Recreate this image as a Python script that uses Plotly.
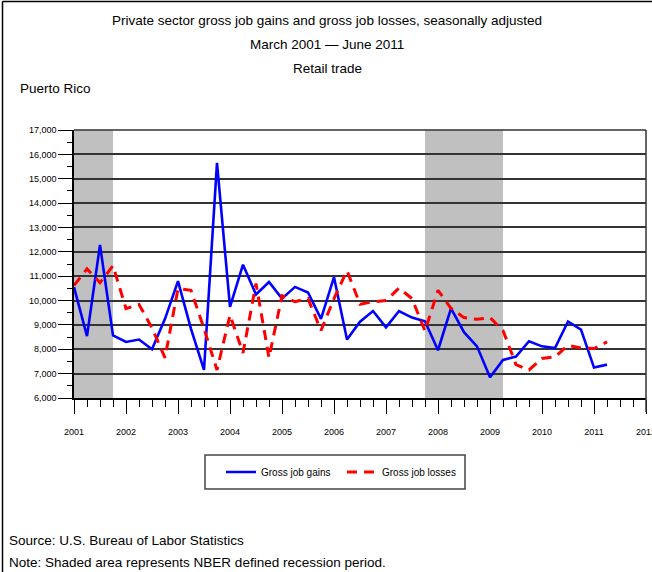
import plotly.graph_objects as go

# ---- data (quarterly, March 2001 - June 2011) ----
start_year = 2001
gains = [10550, 8540, 12280, 8570, 8300, 8400, 8000, 9250, 10800, 8840,
         7150, 15650, 9740, 11470, 10250, 10760, 10080, 10560, 10330, 9250,
         10960, 8400, 9130, 9570, 8900, 9570, 9300, 9150, 7960, 9680,
         8700, 8120, 6850, 7560, 7700, 8330, 8120, 8050, 9140, 8810,
         7250, 7370]
losses = [10620, 11300, 10730, 11430, 9670, 9840, 8880, 7650, 10490, 10420,
          8850, 7150, 9400, 7850, 10700, 7650, 10200, 9950, 10080, 8770,
          10080, 11230, 9850, 9950, 10000, 10510, 10080, 8750, 10420, 9680,
          9300, 9230, 9300, 8770, 7370, 7150, 7620, 7690, 8160, 8050,
          8030, 8300]
recession_start = [2001.0, 2007.75]
recession_end = [2001.75, 2009.25]
quarters = [start_year + i / 4 for i in range(len(gains))]

title_lines = ["Private sector gross job gains and gross job losses, seasonally adjusted",
               "March 2001 \u2014 June 2011",
               "Retail trade"]
region = "Puerto Rico"
source = "Source: U.S. Bureau of Labor Statistics"
note = "Note: Shaded area represents NBER defined recession period."

# ---- layout geometry ----
FW, FH = 652, 572
L, R, T, B = 74, 6, 130, 174
PW, PH = FW - L - R, FH - T - B
BOT = FH - B


def px2x(px):
    return (px - L) / PW


def py2y(py):
    return (BOT - py) / PH


FONT = "Liberation Sans Narrow, Arial Narrow, Liberation Sans, Arial, sans-serif"

fig = go.Figure()
fig.add_trace(go.Scatter(x=quarters, y=gains, mode="lines", name="Gross job gains",
                         line=dict(color="#0000FF", width=2.6), legend="legend",
                         showlegend=True))
fig.add_trace(go.Scatter(x=quarters, y=losses, mode="lines", name="Gross job losses",
                         line=dict(color="#FF0000", width=3, dash="10px,7px"), legend="legend2",
                         showlegend=True))

shapes = []
for s, e in zip(recession_start, recession_end):
    shapes.append(dict(type="rect", xref="x", yref="paper", x0=s, x1=e, y0=0, y1=1,
                       fillcolor="#C0C0C0", line=dict(width=0), layer="between"))
# plot top and right frame
shapes.append(dict(type="line", xref="paper", yref="paper", x0=0, x1=1, y0=1, y1=1,
                   line=dict(color="#333333", width=1.5)))
shapes.append(dict(type="line", xref="paper", yref="paper", x0=1, x1=1, y0=py2y(412), y1=1,
                   line=dict(color="#333333", width=1.5)))
# legend box
shapes.append(dict(type="rect", xref="paper", yref="paper", x0=px2x(205), x1=px2x(465),
                   y0=py2y(489), y1=py2y(455), line=dict(color="#444444", width=1.5),
                   fillcolor="rgba(0,0,0,0)"))
# outer frame (top and left)
shapes.append(dict(type="line", xref="paper", yref="paper", x0=px2x(2.5), x1=px2x(652),
                   y0=py2y(1.5), y1=py2y(1.5), line=dict(color="#000000", width=1.5)))
shapes.append(dict(type="line", xref="paper", yref="paper", x0=px2x(2.5), x1=px2x(2.5),
                   y0=py2y(1.5), y1=py2y(572), line=dict(color="#000000", width=1.5)))

annotations = []
for txt, yc in zip(title_lines, [20, 45, 69]):
    annotations.append(dict(text=txt, xref="paper", yref="paper", x=px2x(327), y=py2y(yc),
                            xanchor="center", yanchor="middle", showarrow=False,
                            font=dict(size=13.5, color="#000000", family=FONT)))
annotations.append(dict(text=region, xref="paper", yref="paper", x=px2x(18), y=py2y(89),
                        xanchor="left", yanchor="middle", showarrow=False,
                        font=dict(size=13.5, color="#000000", family=FONT)))
annotations.append(dict(text=source, xref="paper", yref="paper", x=px2x(7), y=py2y(540),
                        xanchor="left", yanchor="middle", showarrow=False,
                        font=dict(size=13.5, color="#000000", family=FONT)))
annotations.append(dict(text=note, xref="paper", yref="paper", x=px2x(7), y=py2y(562),
                        xanchor="left", yanchor="middle", showarrow=False,
                        font=dict(size=13.5, color="#000000", family=FONT)))

fig.update_layout(
    width=FW, height=FH,
    margin=dict(l=L, r=R, t=T, b=B, pad=0, autoexpand=False),
    paper_bgcolor="white", plot_bgcolor="white",
    font=dict(family=FONT, color="#000000"),
    showlegend=True,
    shapes=shapes, annotations=annotations,
    legend=dict(x=px2x(221), y=py2y(472), xanchor="left", yanchor="middle",
                orientation="h", bgcolor="rgba(0,0,0,0)", borderwidth=0,
                font=dict(size=10, family=FONT), itemwidth=30, visible=True),
    legend2=dict(x=px2x(342), y=py2y(472), xanchor="left", yanchor="middle",
                 orientation="h", bgcolor="rgba(0,0,0,0)", borderwidth=0,
                 font=dict(size=10, family=FONT), itemwidth=30, visible=True),
    xaxis=dict(range=[2001, 2012], dtick=1, tick0=2001, tickformat="d",
               automargin=False,
               showgrid=False, zeroline=False, showline=True, linecolor="#000000", linewidth=1.5,
               ticks="outside", ticklen=14, tickwidth=1.2, tickcolor="#000000",
               ticklabelstandoff=10, ticklabeloverflow="allow",
               minor=dict(dtick=0.25, ticks="outside", ticklen=7, tickwidth=1.2,
                          tickcolor="#000000", showgrid=False),
               tickfont=dict(size=9, family=FONT)),
    yaxis=dict(range=[6000, 17000], dtick=1000, tickformat=",d",
               automargin=False,
               showgrid=True, gridcolor="#333333", gridwidth=1.5,
               zeroline=False, showline=True, linecolor="#000000", linewidth=1.5,
               ticks="outside", ticklen=14, tickwidth=1.2, tickcolor="#000000",
               minor=dict(dtick=500, ticks="outside", ticklen=5, tickwidth=1.2,
                          tickcolor="#000000", showgrid=False),
               tickfont=dict(size=9, family=FONT)),
)

fig.write_html("out.html", config={"displayModeBar": False},
               post_script="document.body.style.margin='0px';document.body.style.padding='0px';")
